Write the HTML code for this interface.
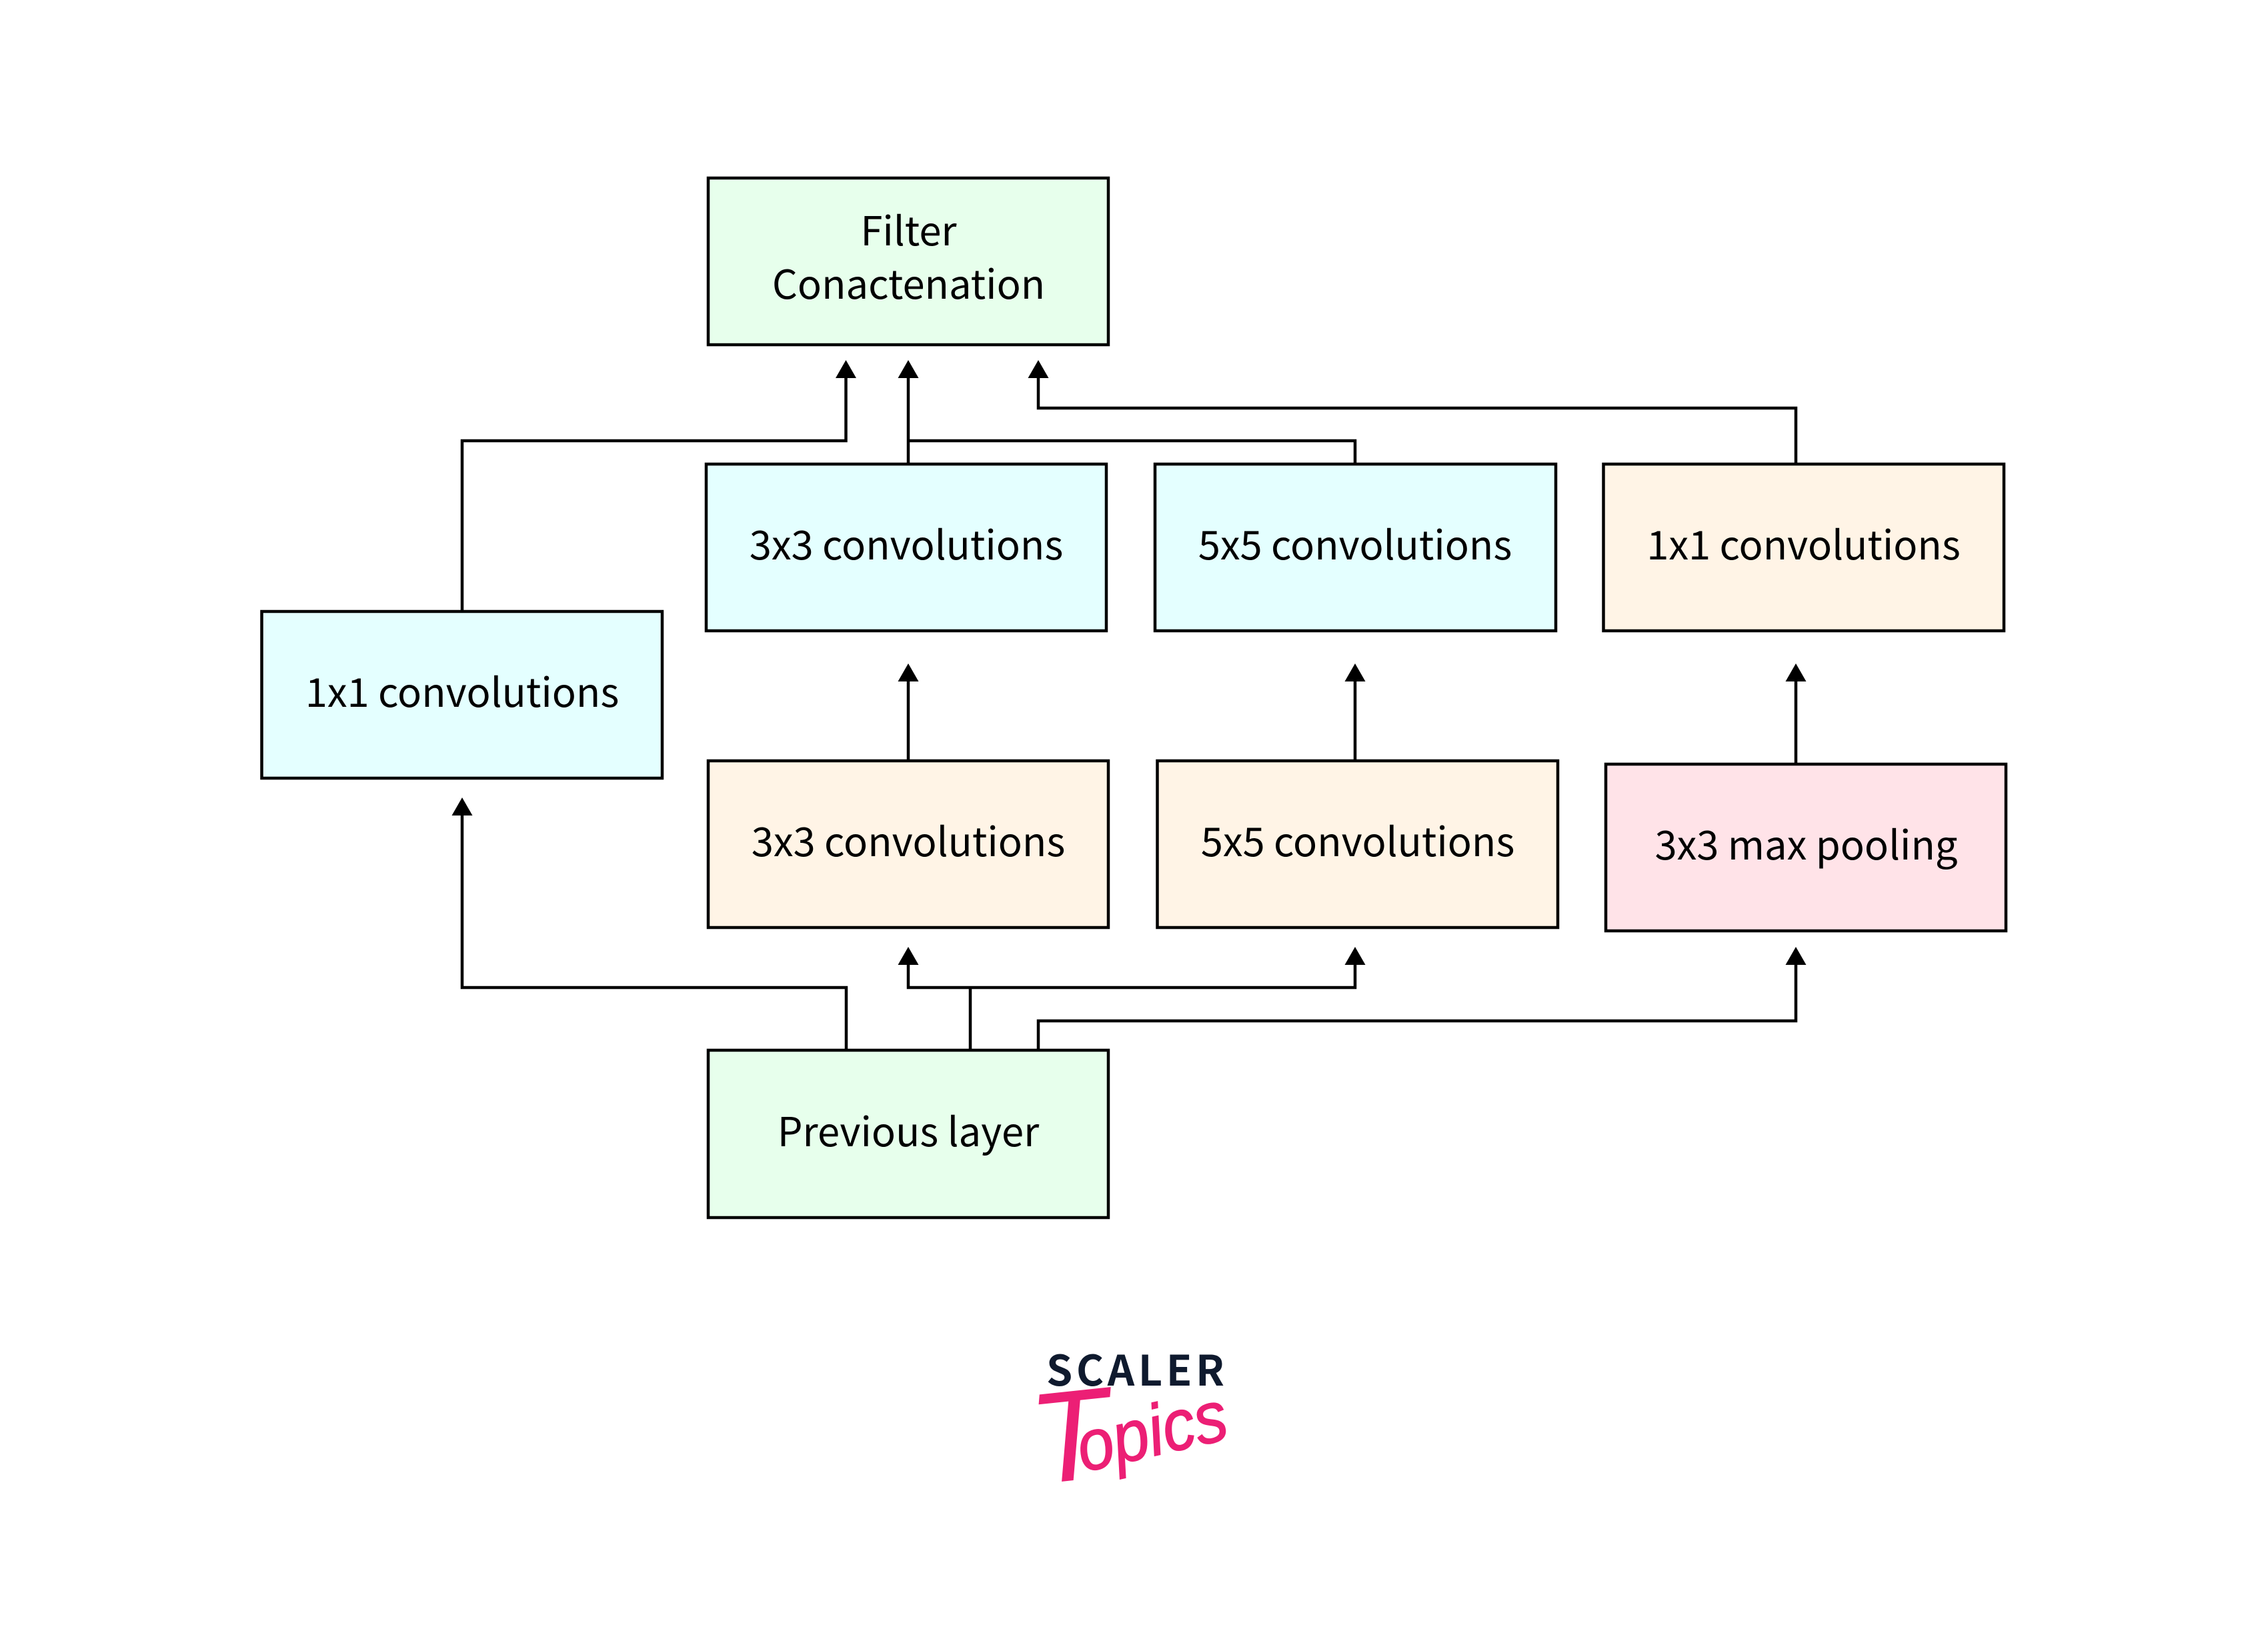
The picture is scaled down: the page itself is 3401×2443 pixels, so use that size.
<!DOCTYPE html>
<html><head><meta charset="utf-8"><style>
html,body{margin:0;padding:0;background:#fff;width:3401px;height:2443px;overflow:hidden}
svg{display:block}
.t{font-family:"Noto Sans CJK JP","Liberation Sans",sans-serif;font-size:59.7px;text-anchor:middle;fill:#000}
</style></head><body>
<svg width="3401" height="2443" viewBox="0 0 3401 2443" xmlns="http://www.w3.org/2000/svg">
<rect width="3401" height="2443" fill="#fff"/>
<g stroke="#000" stroke-width="4.5">
<rect x="1062" y="267" width="600" height="250" fill="#E7FFEC"/>
<rect x="1059" y="696" width="600" height="250" fill="#E4FFFF"/>
<rect x="1732" y="696" width="601" height="250" fill="#E4FFFF"/>
<rect x="2404.5" y="696" width="600.5" height="250" fill="#FFF4E6"/>
<rect x="392.5" y="917" width="600.5" height="250" fill="#E4FFFF"/>
<rect x="1062" y="1141" width="600" height="250" fill="#FFF4E6"/>
<rect x="1735.5" y="1141" width="600.5" height="250" fill="#FFF4E6"/>
<rect x="2408" y="1146" width="600" height="250" fill="#FFE3E8"/>
<rect x="1062" y="1575" width="600" height="251" fill="#E7FFEC"/>
</g>
<g fill="none" stroke="#000" stroke-width="4.5">
<path d="M693 917V661H1268.5V566"/>
<path d="M1362 696V566"/>
<path d="M1362 661H2032V696"/>
<path d="M2693 696V612H1557V566"/>
<path d="M1362 1141V1020"/>
<path d="M2032 1141V1020"/>
<path d="M2693 1146V1020"/>
<path d="M1269 1575V1481H693V1220"/>
<path d="M1455 1575V1481"/>
<path d="M1362 1447V1481H2032V1447"/>
<path d="M1557 1575V1531H2693V1447"/>
</g>
<g fill="#000">
<path d="M1268.5 540l-15.5 27h31z"/>
<path d="M1362 540l-15.5 27h31z"/>
<path d="M1557 540l-15.5 27h31z"/>
<path d="M1362 995l-15.5 27h31z"/>
<path d="M2032 995l-15.5 27h31z"/>
<path d="M2693 995l-15.5 27h31z"/>
<path d="M693 1196l-15.5 27h31z"/>
<path d="M1362 1420l-15.5 27h31z"/>
<path d="M2032 1420l-15.5 27h31z"/>
<path d="M2693 1420l-15.5 27h31z"/>
</g>
<text class="t" x="1362.5" y="368">Filter</text>
<text class="t" x="1362.5" y="448">Conactenation</text>
<text class="t" x="1359" y="839">3x3 convolutions</text>
<text class="t" x="2032" y="839">5x5 convolutions</text>
<text class="t" x="2704.5" y="839">1x1 convolutions</text>
<text class="t" x="693" y="1060">1x1 convolutions</text>
<text class="t" x="1362" y="1284">3x3 convolutions</text>
<text class="t" x="2036" y="1284">5x5 convolutions</text>
<text class="t" x="2708.5" y="1289">3x3 max pooling</text>
<text class="t" x="1362" y="1719">Previous layer</text>
<text x="1569" y="2078" font-family="'Noto Sans CJK JP','Liberation Sans',sans-serif" font-weight="700" font-size="63" fill="#0F1A2E" textLength="267" lengthAdjust="spacing">SCALER</text>
<g font-family="'Liberation Sans',sans-serif" font-style="italic" fill="#EC1F75">
<text transform="translate(1553 2226) rotate(-6) scale(1 1.02)" font-size="190">T</text>
<text transform="translate(1624 2208) rotate(-13)" font-size="108" textLength="228" lengthAdjust="spacingAndGlyphs" stroke="#EC1F75" stroke-width="1.5">opics</text>
</g>
</svg>
</body></html>
